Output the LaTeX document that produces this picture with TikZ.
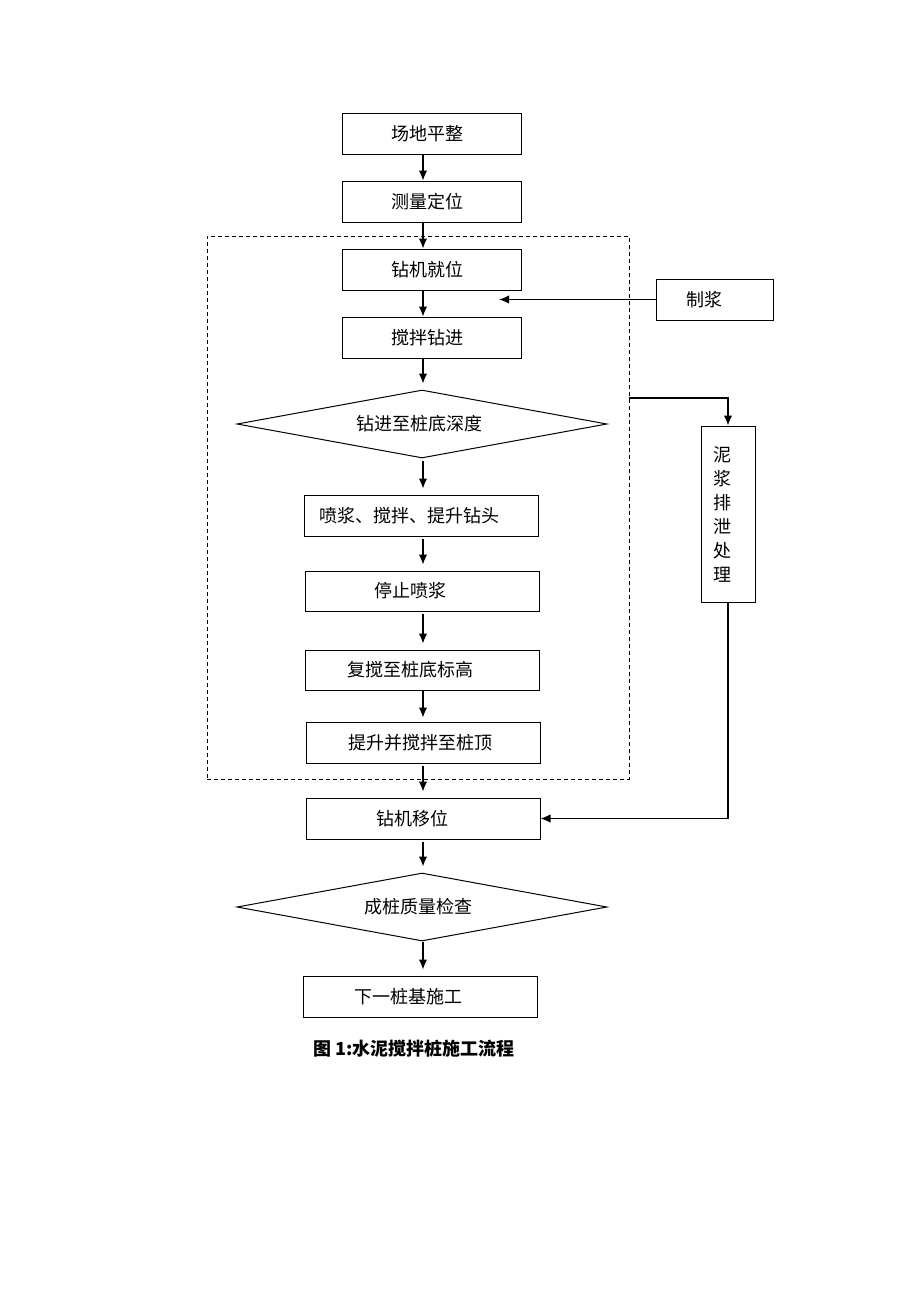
\documentclass[tikz,border=0pt]{standalone}
\usepackage{fontspec}
\setmainfont{Noto Sans CJK SC}
\usetikzlibrary{shapes.geometric,arrows.meta}

\begin{document}
\begin{tikzpicture}[
		x=0.5pt,y=-0.5pt,
		every node/.style={font=\fontsize{9pt}{12pt}\selectfont},
		box/.style={rectangle,draw,line width=0.5pt,minimum width=89.5pt,minimum height=20.5pt,inner sep=0pt},
		wide/.style={box,minimum width=117pt},
		choice/.style={diamond,draw,line width=0.5pt,aspect=5.4,minimum width=185pt,minimum height=34pt,inner sep=0pt},
		frame/.style={rectangle,draw,dash pattern=on 2pt off 1.5pt,line width=0.45pt,minimum width=211pt,minimum height=271.5pt,inner sep=0pt},
		arr/.style={-{Latex[length=5pt,width=4.2pt]},line width=0.6pt},
		gap/.style={shorten >=3pt}
		]
		\useasboundingbox (0,0) rectangle (920,1302);
		\coordinate (ax) at (423,0);
		% main column
		\node[box] (site) at (431.5,133.5) {场地平整\hspace*{4pt}};
		\node[box] (survey) at (431.5,201.5) {测量定位\hspace*{4pt}};
		\node[frame] (frame) at (418,507.5) {};
		\node[box] (rig) at (431.5,269.5) {钻机就位\hspace*{4pt}};
		\node[box] (stir) at (431.5,337.5) {搅拌钻进\hspace*{4pt}};
		\node[choice] (depth) at (422,424) {钻进至桩底深度\hspace*{3pt}};
		\node[wide] (spray) at (421,515.5) {喷浆、搅拌、提升钻头\hspace*{12pt}};
		\node[wide,minimum height=20pt] (stop) at (422,591) {停止喷浆\hspace*{12pt}};
		\node[wide,minimum height=20pt] (restir) at (422,670) {复搅至桩底标高\hspace*{12pt}};
		\node[wide] (lift) at (423.5,742.5) {提升并搅拌至桩顶\hspace*{3pt}};
		\node[wide] (move) at (423,818.5) {钻机移位\hspace*{11pt}};
		\node[choice] (check) at (422,907) {成桩质量检查\hspace*{4pt}};
		\node[wide] (next) at (420.5,996.5) {下一桩基施工\hspace*{12pt}};
		% side boxes
		\node[box,minimum width=58.5pt] (slurry) at (714.5,299.5) {制浆\hspace*{10pt}};
		\node[box,minimum width=27pt,minimum height=88pt,text width=15pt,align=left] (mud) at (728,514) {泥\\浆\\排\\泄\\处\\理};
		\coordinate (tip) at (499,0);
		\coordinate (out) at (frame.east |- 0,398);
		\node[font=\fontsize{9pt}{12pt}\selectfont\bfseries] (cap) at (414,1049) {图 1:水泥搅拌桩施工流程};
		% connectors
		\draw[arr] (site.south -| ax) -- (survey.north -| ax);
		\draw[arr] (survey.south -| ax) -- (rig.north -| ax);
		\draw[arr] (rig.south -| ax) -- (stir.north -| ax);
		\draw[arr,gap] (stir.south -| ax) -- (depth.north -| ax);
		\draw[arr,gap] ([yshift=-1pt]depth.south -| ax) -- (spray.north -| ax);
		\draw[arr,gap] ([yshift=-1pt]spray.south -| ax) -- (stop.north -| ax);
		\draw[arr,gap] ([yshift=-1pt]stop.south -| ax) -- (restir.north -| ax);
		\draw[arr,shorten >=2pt] (restir.south -| ax) -- (lift.north -| ax);
		\draw[arr,gap] ([yshift=-1pt]lift.south -| ax) -- (move.north -| ax);
		\draw[arr,gap] ([yshift=-1pt]move.south -| ax) -- (check.north -| ax);
		\draw[arr,gap] (check.south -| ax) -- (next.north -| ax);
		\draw[arr] (slurry.west) -- (slurry.west -| tip);
		\draw[arr] (out) -| (mud.north);
		\draw[arr] (mud.south) |- (move.east);
	\end{tikzpicture}
\end{document}
